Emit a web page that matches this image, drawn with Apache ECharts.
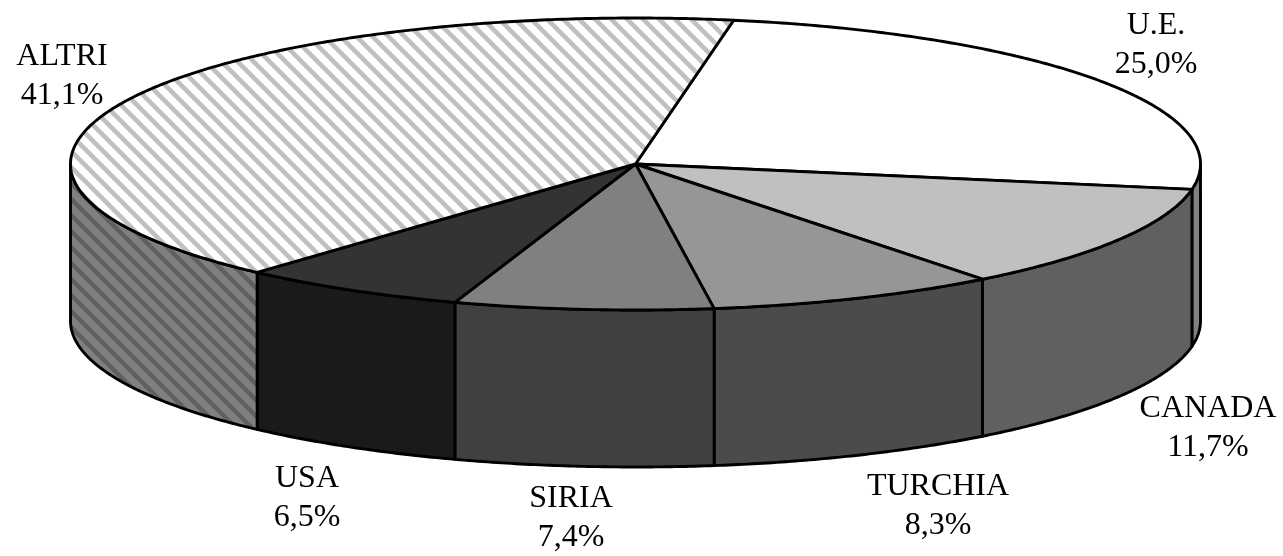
<!DOCTYPE html>
<html><head><meta charset="utf-8">
<style>html,body{margin:0;padding:0;background:#fff}#c{width:1283px;height:556px}</style>
<script src="https://cdn.jsdelivr.net/npm/echarts@6/dist/echarts.min.js"></script>
</head><body><div id="c"></div>
<script>
const categories = ['U.E.', 'CANADA', 'TURCHIA', 'SIRIA', 'USA', 'ALTRI'];
const shares = [25.0, 11.7, 8.3, 7.4, 6.5, 41.1];
const percentLabels = ['25,0%', '11,7%', '8,3%', '7,4%', '6,5%', '41,1%'];
const topColors = ['#ffffff', '#c0c0c0', '#969696', '#808080', '#333333', 'hatchTop'];
const sideColors = ['#808080', '#606060', '#4b4b4b', '#404040', '#1a1a1a', 'hatchSide'];
const labelAnchors = [[1156, 45.5], [1208, 428.5], [938, 506], [571, 518], [307, 498], [62, 76.5]];

const CX = 635.5, CY = 164, RX = 565, RY = 146, DEPTH = 157, START = 10;

function hatch(bg, fg) {
  const s = 16, c = document.createElement('canvas');
  c.width = s; c.height = s;
  const g = c.getContext('2d');
  g.fillStyle = bg; g.fillRect(0, 0, s, s);
  g.strokeStyle = fg; g.lineWidth = 4.6;
  for (let k = -s; k <= s; k += s) {
    g.beginPath(); g.moveTo(k - 2, -2); g.lineTo(k + s + 2, s + 2); g.stroke();
  }
  return { image: c, repeat: 'repeat' };
}
const patterns = { hatchTop: hatch('#ffffff', '#c0c0c0'), hatchSide: hatch('#808080', '#606060') };
const paint = c => patterns[c] || c;

function pt(deg, dy) {
  const a = deg * Math.PI / 180;
  return [CX + RX * Math.sin(a), CY - RY * Math.cos(a) + (dy || 0)];
}
function arc(a0, a1, dy) {
  const out = [], n = Math.max(2, Math.ceil(Math.abs(a1 - a0) * 2));
  for (let i = 0; i <= n; i++) out.push(pt(a0 + (a1 - a0) * i / n, dy));
  return out;
}
const cum = [];
shares.reduce((acc, v, i) => { cum[i] = acc; return acc + v; }, 0);
const stroke = { stroke: '#000', lineWidth: 2.9, lineJoin: 'round' };

function renderItem(params, api) {
  const i = params.dataIndex, v = api.value(0);
  const a0 = START + cum[i] * 3.6, a1 = a0 + v * 3.6;
  const children = [];
  const s0 = Math.max(a0, 90), s1 = Math.min(a1, 270);
  if (s1 > s0) {
    children.push({
      type: 'polygon', z2: 1,
      shape: { points: arc(s0, s1, 0).concat(arc(s1, s0, DEPTH)) },
      style: Object.assign({ fill: paint(sideColors[i]) }, stroke)
    });
  }
  children.push({
    type: 'polygon', z2: 2,
    shape: { points: [[CX, CY]].concat(arc(a0, a1, 0)) },
    style: Object.assign({ fill: paint(topColors[i]) }, stroke)
  });
  children.push({
    type: 'text', z2: 3,
    style: {
      text: categories[i] + '\n' + percentLabels[i],
      x: labelAnchors[i][0], y: labelAnchors[i][1],
      align: 'center', verticalAlign: 'middle',
      font: '32px "Liberation Serif"', lineHeight: 39, fill: '#000'
    }
  });
  return { type: 'group', children };
}

const chart = echarts.init(document.getElementById('c'), null, { renderer: 'canvas' });
chart.setOption({
  animation: false,
  backgroundColor: '#fff',
  series: [{
    type: 'custom', coordinateSystem: 'none', silent: true,
    data: shares.map(v => [v]),
    renderItem
  }]
});
</script></body></html>
